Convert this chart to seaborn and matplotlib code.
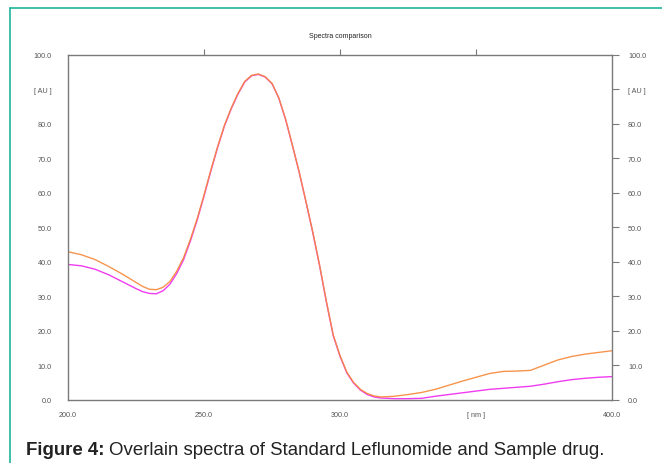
import numpy as np
import pandas as pd
import matplotlib
matplotlib.use("Agg")
import matplotlib.pyplot as plt
import seaborn as sns

# wavelength grid (nm) and absorbance values
wavelength = [200, 205, 210, 215, 220, 225, 227.5, 230, 232.5, 235,
              237.5, 240, 242.5, 245, 247.5, 250, 252.5, 255, 257.5, 260,
              262.5, 265, 267.5, 270, 272.5, 275, 277.5, 280, 282.5, 285,
              287.5, 290, 292.5, 295, 297.5, 300, 302.5, 305, 307.5, 310,
              312.5, 315, 320, 325, 330, 335, 340, 345, 350, 355,
              360, 365, 370, 375, 380, 385, 390, 395, 400]

standard_au = [42.9, 42.0, 40.6, 38.6, 36.4, 34.0, 32.8, 32.0, 31.9, 32.6,
               34.3, 37.3, 41.2, 46.5, 52.5, 59.3, 66.5, 73.3, 79.5, 84.5,
               88.8, 92.3, 94.0, 94.4, 93.6, 91.7, 87.5, 81.3, 73.8, 66.0,
               57.4, 48.6, 39.0, 28.5, 18.8, 12.8, 8.0, 5.0, 3.0, 1.8,
               1.1, 0.8, 1.0, 1.5, 2.1, 3.0, 4.2, 5.4, 6.5, 7.6,
               8.2, 8.3, 8.5, 10.0, 11.5, 12.5, 13.2, 13.7, 14.2]

sample_au = [39.2, 38.8, 37.8, 36.2, 34.2, 32.2, 31.3, 30.8, 30.7, 31.6,
             33.5, 36.6, 40.6, 46.0, 52.1, 59.0, 66.2, 73.1, 79.3, 84.3,
             88.6, 92.1, 93.9, 94.3, 93.5, 91.6, 87.4, 81.2, 73.7, 65.9,
             57.3, 48.4, 38.8, 28.3, 18.6, 12.6, 7.8, 4.8, 2.8, 1.5,
             0.8, 0.5, 0.3, 0.3, 0.4, 1.0, 1.5, 2.0, 2.5, 3.0,
             3.3, 3.6, 3.9, 4.5, 5.2, 5.8, 6.2, 6.5, 6.7]

x_ticks = [200, 250, 300, 350, 400]
x_labels = ["200.0", "250.0", "300.0", "[ nm ]", "400.0"]
y_ticks = [0, 10, 20, 30, 40, 50, 60, 70, 80, 90, 100]
y_labels = ["0.0", "10.0", "20.0", "30.0", "40.0", "50.0", "60.0",
            "70.0", "80.0", "[ AU ]", "100.0"]

sns.set_style("white")
plt.rcParams['font.family'] = ['Liberation Sans', 'DejaVu Sans']

df = pd.DataFrame({"nm": wavelength, "standard": standard_au, "sample": sample_au})

fig = plt.figure(figsize=(6.62, 4.64), dpi=100)
ax = fig.add_axes([0.1027, 0.1364, 0.8218, 0.7436])

GRAY = "#7a7a7a"
TXT = "#555555"

sns.lineplot(data=df, x="nm", y="sample", ax=ax, color="#f03cf0", linewidth=1.0)
sns.lineplot(data=df, x="nm", y="standard", ax=ax, color="#f5893a", linewidth=1.0, alpha=0.9)

ax.set_xlim(200, 400)
ax.set_ylim(0, 100)
ax.set_xlabel("")
ax.set_ylabel("")

ax.set_xticks(x_ticks)
ax.set_xticklabels(x_labels)
ax.set_yticks(y_ticks)
ax.set_yticklabels(y_labels)

ax.tick_params(axis="x", direction="out", length=4, width=0.8, color=GRAY,
               labelsize=5.2, labelcolor=TXT, pad=4, top=False)
ax.tick_params(axis="y", direction="out", length=5, width=0.8, color=GRAY,
               labelsize=5.2, labelcolor=TXT, pad=6.5, right=True, labelright=True)

for s in ax.spines.values():
    s.set_color(GRAY)
    s.set_linewidth(1.0)
    s.set_visible(True)

# top ticks only at the interior positions
ax2 = ax.secondary_xaxis("top")
ax2.set_xticks([250, 300, 350])
ax2.set_xticklabels([])
ax2.tick_params(direction="out", length=4, width=0.8, color=GRAY)
ax2.spines["top"].set_visible(False)

fig.text(0.514, 0.922, "Spectra comparison", fontsize=5, color="#222222",
         ha="center", va="center")

# teal frame around the figure panel
teal = "#1fb59b"
fig.add_artist(plt.Line2D([10.3 / 662, 10.3 / 662], [0, 1 - 9.3 / 464],
                          color=teal, linewidth=1.2, transform=fig.transFigure))
fig.add_artist(plt.Line2D([10.3 / 662, 1], [1 - 9.3 / 464, 1 - 9.3 / 464],
                          color=teal, linewidth=1.2, transform=fig.transFigure))

# caption with bold lead-in
cap_y = 1 - 451 / 464
t1 = fig.text(26.5 / 662, cap_y, "Figure 4:", fontsize=13.4, fontweight="bold",
              color="#222222", va="center", ha="left")
fig.canvas.draw()
bb = t1.get_window_extent(renderer=fig.canvas.get_renderer())
fig.text(bb.x1 / fig.bbox.width + 4 / 662, cap_y,
         "Overlain spectra of Standard Leflunomide and Sample drug.",
         fontsize=13.4, color="#222222", va="center", ha="left")

fig.savefig("out.png", dpi=100)
plt.close(fig)
